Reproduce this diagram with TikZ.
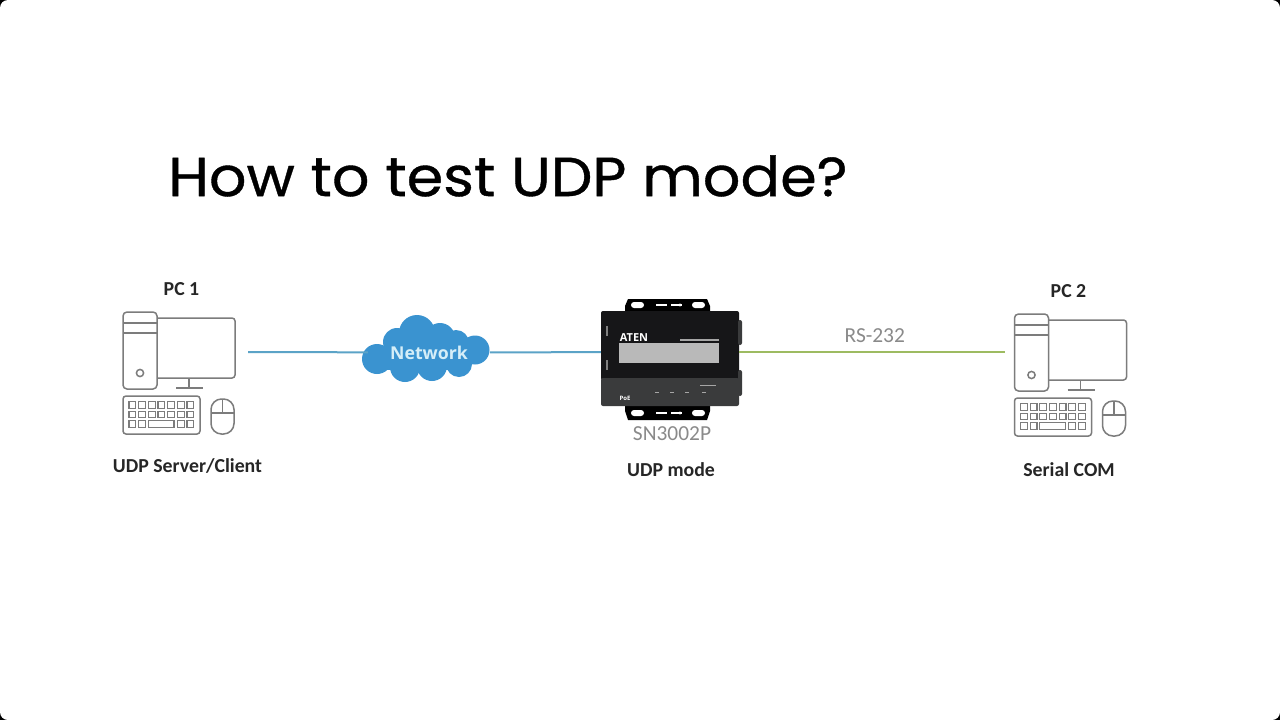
\documentclass[tikz,border=0pt]{standalone}
\usepackage{fontspec}
\setmainfont{Carlito}
\newfontfamily\titlefont[FakeStretch=1.07,FakeBold=0.7]{Poppins}
\newfontfamily\cloudfont{Open Sans}
\definecolor{iconline}{HTML}{7C7C7C}
\definecolor{labeltext}{HTML}{262626}
\definecolor{modeltext}{HTML}{8A8A8A}
\definecolor{netline}{HTML}{5BA3C7}
\definecolor{serialline}{HTML}{9DBB61}
\definecolor{cloudblue}{HTML}{3A93D0}
\definecolor{cloudtext}{HTML}{D5EEF8}
\definecolor{boxblack}{HTML}{161618}
\definecolor{boxlow}{HTML}{3A3B3C}
\definecolor{boxscreen}{HTML}{B9B9B9}
\tikzset{
	iconstroke/.style={draw=iconline, line width=1.5pt},
	keystroke/.style={draw=iconline, line width=1.2pt},
	labelbold/.style={text=labeltext, font=\fontsize{19.8}{22}\selectfont\bfseries},
	modellabel/.style={text=modeltext, font=\fontsize{21.4}{24}\selectfont},
	netwire/.style={draw=netline, line width=2pt},
	serialwire/.style={draw=serialline, line width=2pt},
	pcicon/.pic={
		% origin at top left corner of the tower
		\draw[iconstroke, rounded corners=3] (34,6) -- (112,6) -- (112,66) -- (34,66);
		\draw[iconstroke, rounded corners=4] (0,0) rectangle (34,77);
		\draw[iconstroke] (0,11) -- (34,11);
		\draw[iconstroke] (0,21) -- (34,21);
		\draw[iconstroke] (17,61) circle (3.6);
		\draw[iconstroke] (66,66) -- (66,76);
		\draw[iconstroke] (53,76) -- (80,76);
		\draw[iconstroke, rounded corners=3] (0,84) rectangle (77,122);
		\foreach \ky in {93,102.5,112}
			\foreach \kx in {0,...,6} {
				\ifnum\kx<2
					\draw[keystroke] (6+9.67*\kx,\ky-3.3) rectangle +(6.8,6.6);
				\else\ifnum\kx>4
					\draw[keystroke] (6+9.67*\kx,\ky-3.3) rectangle +(6.8,6.6);
				\else\ifdim\ky pt<110pt
					\draw[keystroke] (6+9.67*\kx,\ky-3.3) rectangle +(6.8,6.6);
				\fi\fi\fi
			}
		\draw[keystroke] (25.3,108.7) rectangle (51,115.3);
		\draw[iconstroke, rounded corners=10.5] (88,87) rectangle (111,122);
		\draw[iconstroke] (99.5,87) -- (99.5,101);
		\draw[iconstroke] (88,101) -- (111,101);
	}
}
\begin{document}
\begin{tikzpicture}[x=1pt, y=-1pt]
	\useasboundingbox (0,0) rectangle (1280,720);
	\fill[black] (0,0) rectangle (1280,720);
	\fill[white, rounded corners=8] (0,0) rectangle (1280,720);

	\node[anchor=west, inner sep=0, text=black, font=\fontsize{55}{60}\titlefont] (title) at (168,176) {How to test UDP mode?};

	% the two computers
	\pic at (123,312) {pcicon};
	\pic at (1014.5,314) {pcicon};
	\node[labelbold] (pcone) at (181.5,289) {PC 1};
	\node[labelbold] (pctwo) at (1068.5,291.5) {PC 2};
	\node[labelbold] (udpclient) at (187.5,466) {UDP Server/Client};
	\node[labelbold] (serialcom) at (1069,469.5) {Serial COM};
	\coordinate (pconeport) at (248,352);
	\coordinate (pctwoport) at (1005,352);

	% the cloud
	\foreach \cx/\cy/\cr in {377/359/15, 397/342/14, 417/333/18, 440/338/15, 456/343/13, 475/350/14.5, 459/364/13, 432/366/15, 405/367/15}
		\fill[cloudblue] (\cx,\cy) circle (\cr);
	\fill[cloudblue] (385,340) rectangle (470,370);
	\node[inner sep=0, minimum width=122, minimum height=67, text=cloudtext, font=\fontsize{17.7}{20}\cloudfont\bfseries] (net) at (429,352.5) {Network};

	% the serial device server
	\node[inner sep=0, minimum width=138, minimum height=82] (sn) at (670,352) {};
	\fill[black] (625,306) -- (628,299) -- (707,299) -- (710,306) -- (710,311) -- (625,311) -- cycle;
	\fill[black] (625,411) -- (628,420) -- (707,420) -- (710,411) -- (710,404) -- (625,404) -- cycle;
	\foreach \ey in {305,413} {
		\fill[white, rounded corners=3] (631,\ey-3) rectangle (644,\ey+3);
		\fill[white, rounded corners=3] (692,\ey-3) rectangle (705,\ey+3);
		\fill[white] (656,\ey-1) rectangle (682,\ey+1);
		\fill[black] (667,\ey-4) rectangle (671,\ey+4);
		\fill[white] (680,\ey) circle (1.6);
	}
	\fill[boxblack, rounded corners=2] (601,311) rectangle (739,380);
	\fill[boxlow, rounded corners=2] (601,378) rectangle (739,406);
	\fill[boxscreen] (619,343) rectangle (719,363);
	\fill[boxlow, rounded corners=2] (738,320) rectangle (742,345);
	\fill[boxlow, rounded corners=2] (738,370) rectangle (742,396);
	\fill[gray] (606,326) rectangle (608,336);
	\fill[gray] (606,360) rectangle (608,370);
	\fill[gray!70] (680,339) rectangle (719,340.5);
	\foreach \lx in {657,672,687,704}
		\fill[gray!70] (\lx-2,391.5) rectangle (\lx+2,393);
	\fill[gray!70] (700,384.5) rectangle (716,386);
	\node[inner sep=0, text=white, font=\fontsize{11}{12}\cloudfont\bfseries] (aten) at (634,338) {ATEN};
	\node[inner sep=0, text=white, font=\fontsize{6}{7}\cloudfont\bfseries] (poe) at (625,398) {PoE};
	\node[modellabel] (snname) at (672,434) {SN3002P};
	\node[labelbold] (udpmode) at (671,470) {UDP mode};

	% wires
	\draw[netwire] (pconeport) -- (net);
	\draw[netwire] (net) -- (sn);
	\draw[serialwire] (sn) -- (pctwoport) node[pos=0.51, above=8pt, modellabel, inner sep=0] (rslabel) {RS-232};
\end{tikzpicture}
\end{document}
